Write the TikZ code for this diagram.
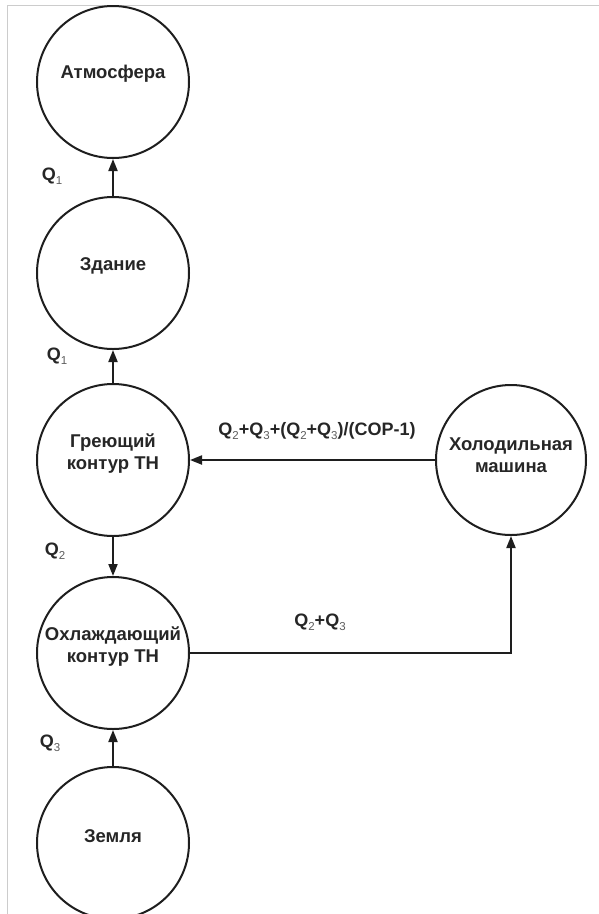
\documentclass[tikz,border=0pt]{standalone}
\usepackage{fontspec}
\setmainfont{Liberation Sans}
\usetikzlibrary{arrows.meta}
\definecolor{ink}{HTML}{1E1E1E}
\definecolor{txtc}{HTML}{262626}
\definecolor{framec}{HTML}{CCCCCC}
% subscript digit, lighter and non-bold
\newcommand\qsub[1]{\raisebox{-0.2em}{\fontsize{11.5}{11.5}\selectfont\mdseries\color{txtc!75}#1}}
\tikzset{
  circ/.style={circle, draw=ink, line width=2pt, minimum size=152pt, inner sep=0pt},
  txt/.style={text=txtc, font=\fontsize{18.5}{22}\selectfont\bfseries, align=center, inner sep=0pt},
  lbl/.style={text=txtc, font=\fontsize{18}{21}\selectfont\bfseries, inner sep=0pt},
  flow/.style={draw=ink, line width=2pt, -{Triangle[length=12pt,width=9pt]}}
}
\begin{document}
\begin{tikzpicture}[x=1pt,y=-1pt]
  \useasboundingbox (0,0) rectangle (599,914);
  % page frame
  \draw[framec, line width=1pt] (7.5,914) -- (7.5,5) -- (599,5);

  % nodes
  \node[circ] (atm) at (113,82) {};
  \node[txt]  (atmt) at (113,74) {Атмосфера};
  \node[circ] (zd)  at (113,273) {};
  \node[txt]  (zdt) at (113,266) {Здание};
  \node[circ] (gr)  at (113,460) {};
  \node[txt]  (grt) at (113,454) {Греющий\\контур ТН};
  \node[circ] (oh)  at (113,653) {};
  \node[txt]  (oht) at (113,647) {Охлаждающий\\контур ТН};
  \node[circ] (zem) at (113,843) {};
  \node[txt]  (zemt) at (113,836) {Земля};
  \node[circ, minimum size=150pt] (hol) at (511,460) {};
  \node[txt]  (holt) at (511,455) {Холодильная\\машина};

  % connectors
  \draw[flow] (zd.north) -- (atm.south);
  \draw[flow] (gr.north) -- (zd.south);
  \draw[flow] (gr.south) -- (oh.north);
  \draw[flow] (zem.north) -- (oh.south);
  \draw[flow] (hol.west) -- (gr.east);
  \coordinate (bend) at (hol.south |- oh.east);
  \draw[flow] (oh.east) -- (bend) -- (hol.south);

  % flow labels
  \node[lbl] (l1) at (52,176) {Q\qsub{1}};
  \node[lbl] (l2) at (57,356) {Q\qsub{1}};
  \node[lbl] (l3) at (55,551) {Q\qsub{2}};
  \node[lbl] (l4) at (50,743) {Q\qsub{3}};
  \node[lbl] (l5) at (317,431) {Q\qsub{2}+Q\qsub{3}+(Q\qsub{2}+Q\qsub{3})/(COP-1)};
  \node[lbl] (l6) at (320,622) {Q\qsub{2}+Q\qsub{3}};
\end{tikzpicture}
\end{document}
